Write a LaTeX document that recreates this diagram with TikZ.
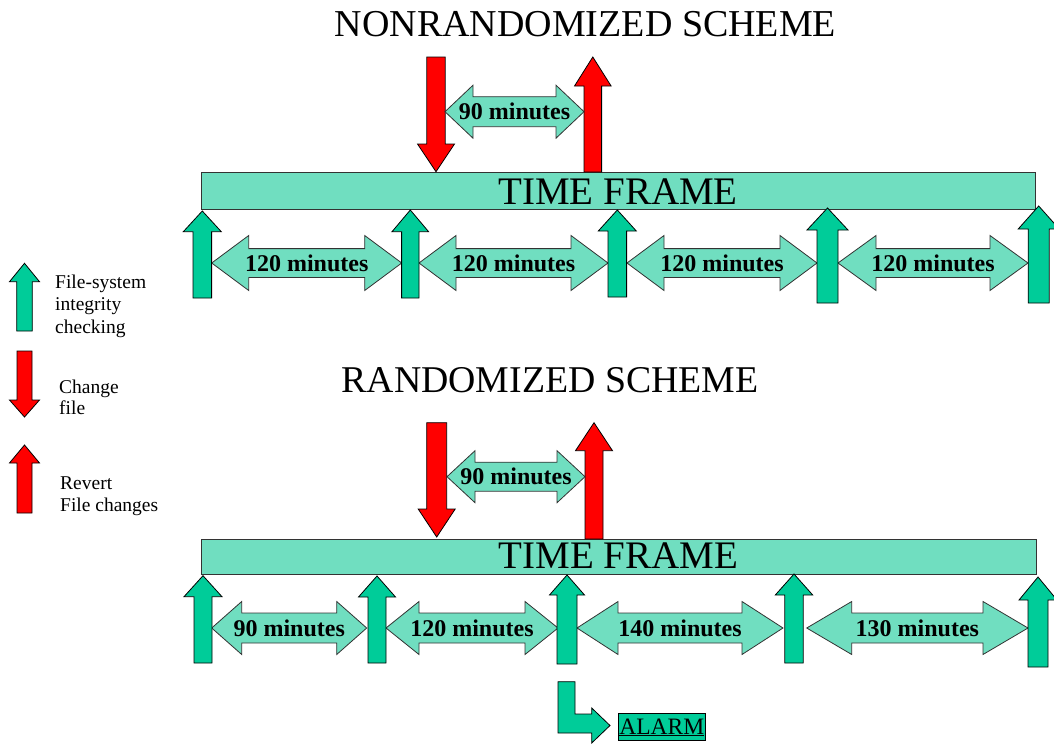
\documentclass[tikz,border=0pt]{standalone}
\usepackage{fontspec}
\setmainfont{Liberation Serif}
\definecolor{checkgreen}{RGB}{0,204,153}
\definecolor{alarmred}{RGB}{255,0,0}
\definecolor{hatchfill}{RGB}{112,222,192}

% vertical block arrow: style, centre x, tip y, head base y, tail y, shaft half width, head half width
\newcommand\ArrV[7]{%
  \draw[#1] (#2-#6,#5) -- (#2-#6,#4) -- (#2-#7,#4) -- (#2,#3)
    -- (#2+#7,#4) -- (#2+#6,#4) -- (#2+#6,#5) -- cycle;}
% horizontal double block arrow with a label: name, left tip, right tip, centre y, head length, body half, head half, text
\newcommand\ArrDouble[8]{%
  \draw[span] (#2,#4) -- (#2+#5,#4-#7) -- (#2+#5,#4-#6) -- (#3-#5,#4-#6)
    -- (#3-#5,#4-#7) -- (#3,#4) -- (#3-#5,#4+#7) -- (#3-#5,#4+#6)
    -- (#2+#5,#4+#6) -- (#2+#5,#4+#7) -- cycle;
  \node[spanlabel] (#1) at ({(#2+#3)/2},#4+8) {#8};}

\begin{document}
\begin{tikzpicture}[x=1pt,y=-1pt,
  check/.style={draw=black,line width=0.8pt,fill=checkgreen,line join=miter},
  change/.style={draw=black,line width=0.8pt,fill=alarmred,line join=miter},
  span/.style={draw=black!80,line width=0.8pt,fill=hatchfill,line join=miter},
  frame/.style={draw=black!80,line width=0.8pt,fill=hatchfill},
  spanlabel/.style={anchor=base,inner sep=0pt,font=\fontsize{24}{28}\selectfont\bfseries},
  title/.style={anchor=base,inner sep=0pt,font=\fontsize{38}{44}\selectfont},
  frametext/.style={anchor=base,inner sep=0pt,font=\fontsize{39}{44}\selectfont},
  legend/.style={anchor=base west,inner sep=0pt,font=\fontsize{19.5}{22}\selectfont}]
\useasboundingbox (0,0) rectangle (1054,744);

% ---------- legend ----------
\ArrV{check}{24.5}{263.3}{281.7}{331}{7.8}{15}
\node[legend] (leg1a) at (55,288) {File-system};
\node[legend] (leg1b) at (55,310) {integrity};
\node[legend] (leg1c) at (55,333) {checking};
\ArrV{change}{24.5}{417}{400}{351}{7.5}{15}
\node[legend] (leg2a) at (59,393) {Change};
\node[legend] (leg2b) at (59,414.5) {file};
\ArrV{change}{24.5}{445}{463}{513}{7.5}{15}
\node[legend] (leg3a) at (60,489) {Revert};
\node[legend] (leg3b) at (60,511) {File changes};

% ---------- nonrandomized scheme ----------
\node[title] (t1) at (585.5,36) {NONRANDOMIZED SCHEME};
\draw[frame] (201,172) rectangle (1035,209);
\node[frametext] (f1) at (618,204) {TIME FRAME};

\ArrV{change}{436}{171.7}{144}{57}{9.2}{18.5}
\ArrV{change}{592.8}{57}{86}{172}{8.8}{18.3}
\ArrDouble{a90}{445}{584}{111.7}{28}{15}{26.5}{90 minutes}

\ArrDouble{a1}{211.7}{401.7}{263}{37}{14.4}{27.5}{120 minutes}
\ArrDouble{a2}{419}{608}{263}{37}{14.4}{27.5}{120 minutes}
\ArrDouble{a3}{627}{817}{263}{37}{14.4}{27.5}{120 minutes}
\ArrDouble{a4}{838}{1028}{263}{38}{14.4}{27.5}{120 minutes}

\ArrV{check}{202.3}{211}{231.7}{298}{9.3}{19}
\ArrV{check}{410.3}{210}{231.7}{298}{8.7}{18.3}
\ArrV{check}{617.3}{210}{231}{297}{9.3}{19}
\ArrV{check}{827.5}{208}{230}{303}{10.5}{20.5}
\ArrV{check}{1038.7}{206}{229}{303}{10.5}{20.5}

% ---------- randomized scheme ----------
\node[title,font=\fontsize{37.8}{42}\selectfont] (t2) at (550,392) {RANDOMIZED SCHEME};
\draw[frame] (201,539) rectangle (1036,574);
\node[frametext] (f2) at (618.5,568) {TIME FRAME};

\ArrV{change}{436.7}{537}{509}{422.7}{10}{18.5}
\ArrV{change}{594}{422.7}{450.7}{539}{9}{18.5}
\ArrDouble{b90}{447}{585}{476.7}{28}{14.5}{26}{90 minutes}

\ArrDouble{b1}{211.7}{366.7}{628}{30}{15}{26.5}{90 minutes}
\ArrDouble{b2}{386}{558}{628}{33}{15}{26.5}{120 minutes}
\ArrDouble{b3}{577}{783}{628}{41}{15}{26.5}{140 minutes}
\ArrDouble{b4}{806.7}{1028}{628}{45}{15}{26.5}{130 minutes}

\ArrV{check}{203}{575.7}{596.7}{663}{9}{19}
\ArrV{check}{377}{576}{597}{663}{9}{18.5}
\ArrV{check}{567}{575}{595}{664}{10}{17.5}
\ArrV{check}{794}{574}{595}{663}{9.2}{18.7}
\ArrV{check}{1038}{577}{600}{667}{10}{19}

% ---------- alarm ----------
\draw[check] (558,681.7) -- (575,681.7) -- (575,714) -- (591.7,714) -- (591.7,708)
  -- (610,725.5) -- (591.7,743) -- (591.7,733) -- (558,733) -- cycle;
\draw[check,line width=0.6pt] (618,713) rectangle (705.7,740);
\node[anchor=base,inner sep=0pt,font=\fontsize{23.5}{26}\selectfont] (alarm) at (661.8,734) {\underline{ALARM}};
\end{tikzpicture}
\end{document}
